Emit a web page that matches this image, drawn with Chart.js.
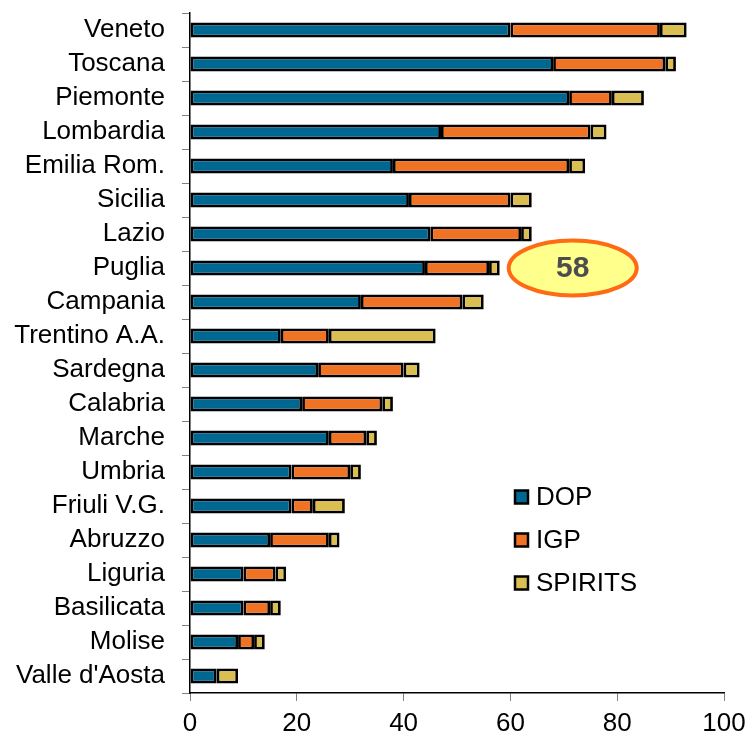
<!DOCTYPE html>
<html>
<head>
<meta charset="utf-8">
<script src="https://cdn.jsdelivr.net/npm/chart.js@4/dist/chart.umd.min.js"></script>
<style>
  html, body { margin: 0; padding: 0; background: #ffffff; }
  #wrap { width: 749px; height: 734px; position: relative; }
</style>
</head>
<body>
<div id="wrap"><canvas id="c" width="749" height="734"></canvas></div>
<script>
const categories = ["Veneto", "Toscana", "Piemonte", "Lombardia", "Emilia Rom.", "Sicilia", "Lazio", "Puglia", "Campania", "Trentino A.A.", "Sardegna", "Calabria", "Marche", "Umbria", "Friuli V.G.", "Abruzzo", "Liguria", "Basilicata", "Molise", "Valle d'Aosta"];
const dop     = [60, 68, 71, 47, 38, 41, 45, 44, 32, 17, 24, 21, 26, 19, 19, 15, 10, 10, 9, 5];
const igp     = [28, 21, 8, 28, 33, 19, 17, 12, 19, 9, 16, 15, 7, 11, 4, 11, 6, 5, 3, 0];
const spirits = [5, 2, 6, 3, 3, 4, 2, 2, 4, 20, 3, 2, 2, 2, 6, 2, 2, 2, 2, 4];
const seriesNames = ["DOP", "IGP", "SPIRITS"];
const xTicks = [0, 20, 40, 60, 80, 100];
const highlightCategory = "Puglia";

const colors = ["#006890", "#F07324", "#DBBE52"];
const FONT = "'Liberation Sans', Arial, sans-serif";

const annotationPlugin = {
  id: 'calloutAndLegend',
  afterDraw(chart) {
    const ctx = chart.ctx;
    const xs = chart.scales.x, ys = chart.scales.y;
    const area = chart.chartArea;
    // callout ellipse next to highlighted bar
    const idx = categories.indexOf(highlightCategory);
    const total = dop[idx] + igp[idx] + spirits[idx];
    const cx = xs.getPixelForValue(total) + 73;
    const cy = ys.getPixelForValue(idx);
    ctx.save();
    ctx.beginPath();
    ctx.ellipse(cx, cy, 64, 27.5, 0, 0, Math.PI * 2);
    ctx.fillStyle = "#FFFF8C";
    ctx.fill();
    ctx.lineWidth = 4;
    ctx.strokeStyle = "#FF6A14";
    ctx.stroke();
    ctx.fillStyle = "#4D4D4D";
    ctx.font = "bold 30px " + FONT;
    ctx.textAlign = "center";
    ctx.textBaseline = "middle";
    ctx.fillText(String(total), cx, cy + 1);
    ctx.restore();

    // legend inside plot area
    ctx.save();
    const lx = area.left + 325;
    let ly = area.top + 484;
    chart.data.datasets.forEach((ds, i) => {
      const y = ly + i * 43;
      ctx.fillStyle = ds.backgroundColor;
      ctx.fillRect(lx, y - 6.5, 13, 13);
      ctx.lineWidth = 2.5;
      ctx.strokeStyle = "#000";
      ctx.strokeRect(lx, y - 6.5, 13, 13);
      ctx.fillStyle = "#000";
      ctx.font = "26px " + FONT;
      ctx.textAlign = "left";
      ctx.textBaseline = "middle";
      ctx.fillText(ds.label, lx + 21, y + 1);
    });
    ctx.restore();
  }
};

const seriesData = [dop, igp, spirits];
new Chart(document.getElementById('c'), {
  type: 'bar',
  data: {
    labels: categories,
    datasets: seriesData.map((d, i) => ({
      label: seriesNames[i],
      data: d,
      backgroundColor: colors[i],
      borderColor: "#000000",
      borderWidth: 2.8,
      borderSkipped: false,
      barPercentage: 0.44,
      categoryPercentage: 1.0
    }))
  },
  options: {
    indexAxis: 'y',
    responsive: false,
    animation: false,
    devicePixelRatio: 1,
    layout: { padding: { left: 13, right: 25, top: 13, bottom: 0 } },
    plugins: {
      legend: { display: false },
      tooltip: { enabled: false }
    },
    scales: {
      x: {
        stacked: true,
        min: 0,
        max: 100,
        afterBuildTicks(scale) { scale.ticks = xTicks.map(v => ({ value: v })); },
        afterFit(scale) {
          scale.height = 41;
          scale.paddingLeft = 0; scale.paddingRight = 0;
          scale.paddingTop = 0; scale.paddingBottom = 0;
        },
        ticks: {
          color: "#000",
          font: { family: FONT, size: 26 },
          padding: 7,
          maxRotation: 0
        },
        grid: {
          display: true,
          drawOnChartArea: false,
          drawTicks: true,
          tickLength: 8,
          color: "#808080"
        },
        border: { display: true, color: "#000", width: 1.5 }
      },
      y: {
        stacked: true,
        afterFit(scale) {
          scale.width = 177;
          scale.paddingTop = 0; scale.paddingBottom = 0;
          scale.paddingLeft = 0; scale.paddingRight = 0;
        },
        ticks: {
          color: "#000",
          font: { family: FONT, size: 26 },
          padding: 17,
          autoSkip: false
        },
        grid: {
          display: true,
          offset: true,
          drawOnChartArea: false,
          drawTicks: true,
          tickLength: 8,
          color: "#808080"
        },
        border: { display: true, color: "#000", width: 1.5 }
      }
    }
  },
  plugins: [annotationPlugin]
});
</script>
</body>
</html>
